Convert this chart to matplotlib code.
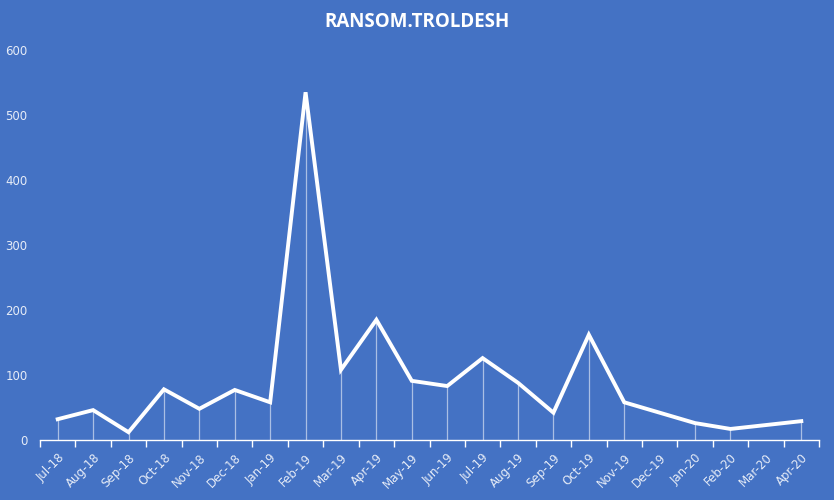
import numpy as np
import matplotlib.pyplot as plt

months = ['Jul-18', 'Aug-18', 'Sep-18', 'Oct-18', 'Nov-18', 'Dec-18', 'Jan-19',
          'Feb-19', 'Mar-19', 'Apr-19', 'May-19', 'Jun-19', 'Jul-19', 'Aug-19',
          'Sep-19', 'Oct-19', 'Nov-19', 'Dec-19', 'Jan-20', 'Feb-20', 'Mar-20', 'Apr-20']
counts = [32, 46, 12, 78, 48, 77, 58, 535, 108, 185, 91, 83, 126, 88,
          42, 162, 58, np.nan, 26, 17, np.nan, 29]

bg = '#4472C4'
txt = '#FFFFFF'

fig = plt.figure(figsize=(8.34, 5), dpi=100, facecolor=bg)
ax = fig.add_axes([40 / 834, 0.12, (819 - 40) / 834, 0.78])
ax.set_facecolor(bg)

x = np.arange(len(months))
y = np.array(counts, dtype=float)
ok = ~np.isnan(y)

# drop lines
ax.vlines(x[ok], 0, y[ok], color='white', linewidth=0.9, alpha=0.55, zorder=2)
ax.plot(x[ok], y[ok], color='white', linewidth=2.8, solid_joinstyle='miter', zorder=3)

ax.set_xlim(-0.5, len(months) - 0.5)
ax.set_ylim(0, 600)
ax.set_yticks(np.arange(0, 601, 100))
ax.set_xticks(x)
ax.set_xticklabels(months, rotation=45, ha='right', rotation_mode='anchor',
                   fontsize=8.5, color='#E6ECF7')
ax.set_xticks(np.arange(-0.5, len(months), 1), minor=True)
ax.tick_params(axis='x', which='major', length=0, pad=8)
ax.tick_params(axis='x', which='minor', length=5, color='white', width=1, direction='out')
ax.tick_params(axis='y', length=0, pad=9, labelsize=8.5, labelcolor='#E6ECF7')

for s in ['top', 'right', 'left']:
    ax.spines[s].set_visible(False)
ax.spines['bottom'].set_color('white')
ax.spines['bottom'].set_linewidth(1)

fig.text(0.5, 0.956, 'RANSOM.TROLDESH', ha='center', va='center',
         fontsize=13.5, fontweight='bold', color=txt, family='Open Sans')

fig.savefig('out.png', dpi=100, facecolor=bg)
